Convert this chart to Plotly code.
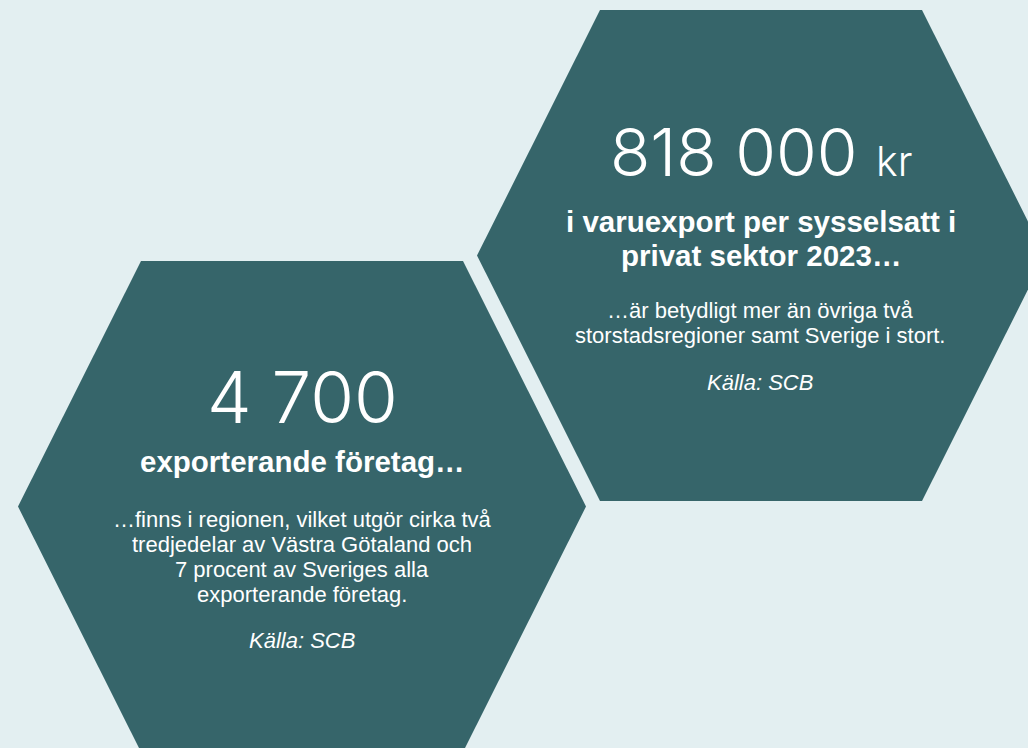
import plotly.graph_objects as go

# ---------------------------------------------------------------------------
# Data
# ---------------------------------------------------------------------------

left_value = "4 700"
left_heading = ["exporterande företag…"]
left_body = [
    "…finns i regionen, vilket utgör cirka två",
    "tredjedelar av Västra Götaland och",
    "7 procent av Sveriges alla",
    "exporterande företag.",
]
left_source = "Källa: SCB"

right_value = "818 000"
right_unit = "kr"
right_heading = ["i varuexport per sysselsatt i", "privat sektor 2023…"]
right_body = [
    "…är betydligt mer än övriga två",
    "storstadsregioner samt Sverige i stort.",
]
right_source = "Källa: SCB"

# ---------------------------------------------------------------------------
# Layout constants
# ---------------------------------------------------------------------------

W, H = 1028, 748
BG = "#E3EFF1"
HEX = "#36656A"
NUM_FONT = "Inter, Open Sans, sans-serif"
TXT_FONT = "Arial, Liberation Sans, sans-serif"

# hexagon: half width at the points, half width of flat top, half height
HEX_RX, HEX_TOP, HEX_RY = 284, 161, 245.5


def hexagon(cx, cy):
    xs = [cx - HEX_TOP, cx + HEX_TOP, cx + HEX_RX, cx + HEX_TOP, cx - HEX_TOP, cx - HEX_RX, cx - HEX_TOP]
    ys = [cy - HEX_RY, cy - HEX_RY, cy, cy + HEX_RY, cy + HEX_RY, cy, cy - HEX_RY]
    return xs, ys


fig = go.Figure()

for cx, cy in [(302, 506.5), (761, 255.5)]:
    xs, ys = hexagon(cx, cy)
    fig.add_trace(go.Scatter(
        x=xs, y=ys, mode="lines", fill="toself",
        fillcolor=HEX, line=dict(width=0, color=HEX),
        hoverinfo="skip", showlegend=False,
    ))


def label(x, y, text, size, family=TXT_FONT, weight="normal", style="normal"):
    fig.add_annotation(
        x=x, y=y, text=text, showarrow=False,
        xanchor="center", yanchor="middle",
        font=dict(family=family, size=size, color="white", weight=weight, style=style),
    )


# left hexagon
label(302, 397, left_value, 71, family=NUM_FONT, weight=300)
for i, line in enumerate(left_heading):
    label(302, 461 + i * 34, line, 29.5, weight="bold")
for i, line in enumerate(left_body):
    label(302, 519 + i * 25, line, 22)
label(302, 640, left_source, 22, style="italic")

# right hexagon
label(761, 152,
      f"{right_value} <span style='font-size:41px'>{right_unit}</span>",
      66, family=NUM_FONT, weight=300)
for i, line in enumerate(right_heading):
    label(761, 221 + i * 34, line, 29.5, weight="bold")
for i, line in enumerate(right_body):
    label(760, 310 + i * 25, line, 22)
label(760, 382, right_source, 22, style="italic")

fig.update_layout(
    width=W, height=H,
    margin=dict(l=0, r=0, t=0, b=0),
    paper_bgcolor=BG, plot_bgcolor=BG,
    xaxis=dict(range=[0, W], visible=False, fixedrange=True),
    yaxis=dict(range=[H, 0], visible=False, fixedrange=True),
    showlegend=False,
)

fig.write_html(
    "out.html",
    config={"displayModeBar": False},
    post_script="document.body.style.margin='0';",
)
